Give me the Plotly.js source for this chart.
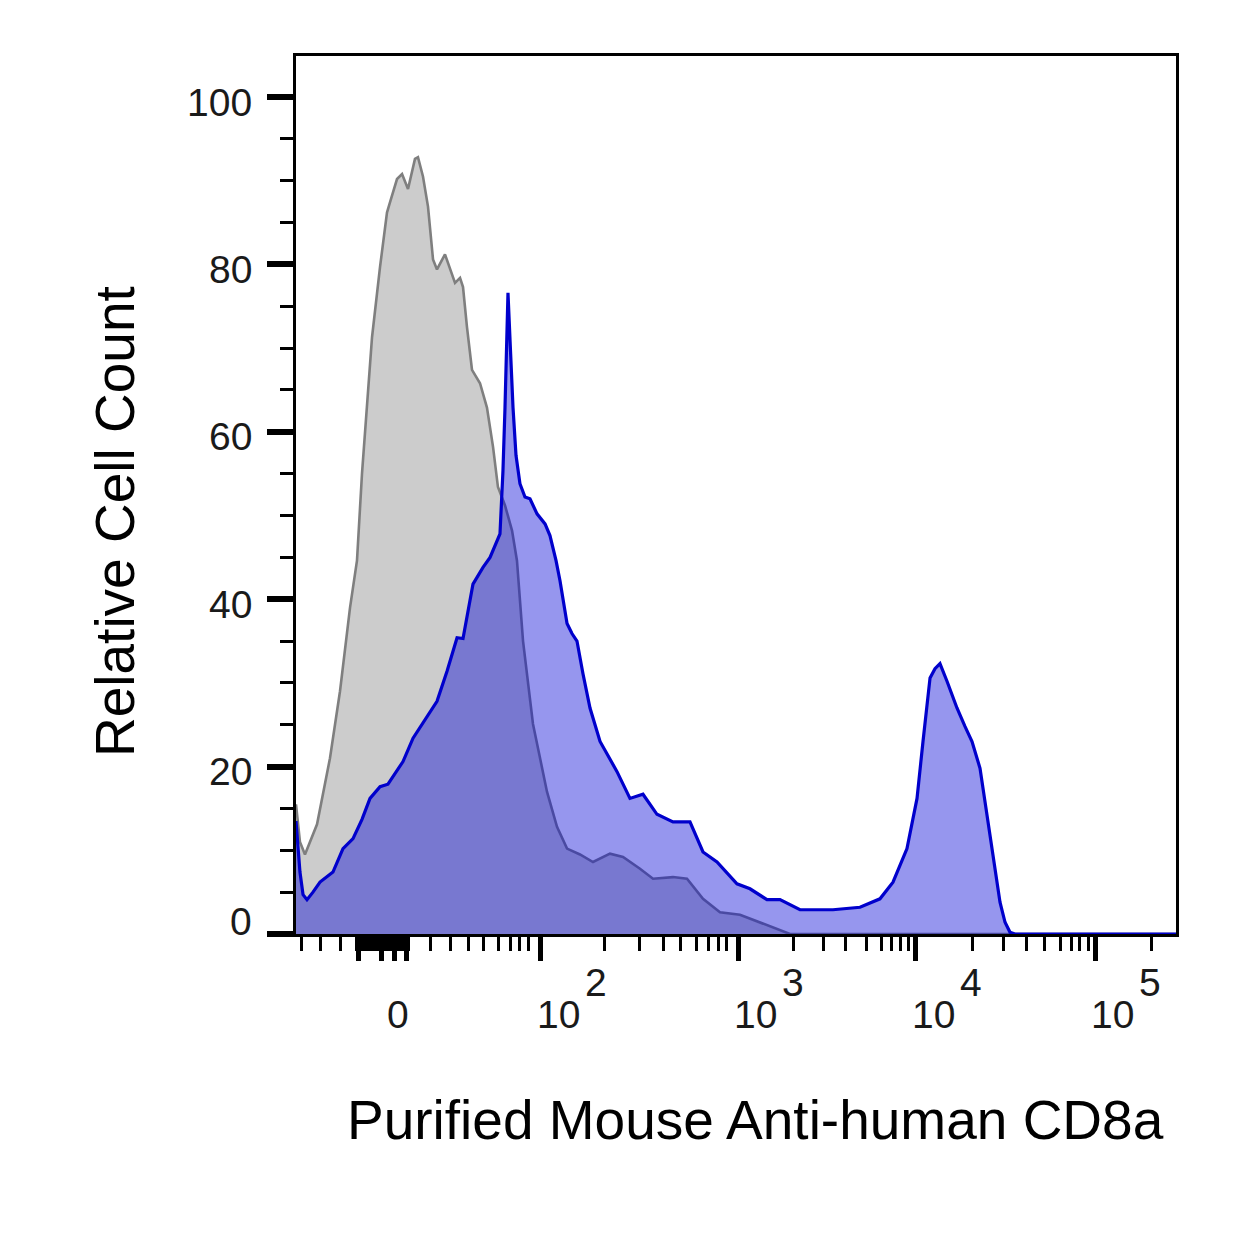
<!DOCTYPE html>
<html>
<head>
<meta charset="utf-8">
<script src="https://cdn.plot.ly/plotly-3.0.1.min.js"></script>
<style>html,body{margin:0;padding:0;background:#fff;}</style>
</head>
<body>
<div id="chart" style="width:1255px;height:1238px;"></div>
<script>
// Display-channel positions (0..1000 across the biexponential axis) and relative counts
const isotypeX = [0,4.5,10.2,23.9,38.6,50.0,61.4,69.3,75.0,80.7,86.4,95.5,103.4,106.8,114.8,120.5,127.3,135.2,138.6,144.3,150.0,155.7,160.2,169.3,175.0,180.7,186.4,189.8,194.3,200.0,209.1,217.0,223.9,229.5,237.5,245.5,251.1,258.0,269.3,285.2,296.6,308.0,322.7,337.5,356.8,371.6,390.9,405.7,428.4,444.3,462.5,481.8,504.5,535.2,561.4,1000];
const isotypeY = [15.5,11.0,9.5,13.1,21.0,29.0,39.0,44.6,55.0,62.9,71.3,79.7,86.2,87.4,90.2,90.8,89.0,92.6,92.8,90.5,86.9,80.6,79.4,81.2,79.4,77.8,78.4,77.3,72.5,67.4,65.8,62.9,58.2,53.4,51.2,48.2,44.6,35.0,25.1,17.0,12.8,10.2,9.5,8.6,9.6,9.2,7.8,6.6,6.8,6.6,4.2,2.6,2.3,1.1,0,0];

const cd8X = [0,4.5,8.0,12.5,19.3,27.3,42.0,53.4,64.8,75.0,84.1,95.5,104.5,121.6,133.0,144.3,160.2,171.6,183.0,189.8,201.1,212.5,220.5,231.8,235.2,237.5,240.9,243.2,246.6,250.0,254.5,260.2,265.9,273.9,283.0,288.6,295.5,300.0,308.0,313.6,319.3,326.1,334.1,345.5,364.8,379.5,394.3,410.2,428.4,447.7,462.5,478.4,501.1,515.9,535.2,550.0,572.7,610.2,640.9,663.6,678.4,694.3,705.7,712.5,720.5,726.1,731.8,739.8,751.1,760.2,768.2,777.3,783.0,788.6,800.0,805.7,811.4,817.0,1000];
const cd8Y = [13.5,7.4,4.7,4.1,5.0,6.2,7.4,10.2,11.4,13.7,16.2,17.6,17.9,20.6,23.4,25.2,27.8,31.4,35.4,35.3,41.8,43.8,45.0,47.8,55.4,62.9,76.6,71.0,62.9,57.2,53.8,52.2,52.0,50.2,49.0,47.6,44.6,42.2,37.1,35.9,35.0,31.1,27.0,23.0,19.4,16.2,16.7,14.3,13.4,13.4,9.8,8.6,6.0,5.4,4.1,4.1,2.9,2.9,3.2,4.2,6.2,10.2,16.2,23.0,30.6,31.7,32.3,30.2,27.0,24.8,23.0,19.8,15.8,11.9,3.8,1.4,0.2,0,0];

// Axis ticks (display channels)
const decadeTicks = [278.4, 502.3, 704.5, 908.5];
const decadeExponents = ['2', '3', '4', '5'];
const zeroLabelPos = 115.9;
const linearMajorTicks = [70.5, 97.7, 111.4, 126.1];
const xMinorTicks = [6.5,27.3,50.0,
  68.2,71.2,74.2,77.2,80.2,83.2,86.2,89.2,92.2,95.2,98.2,101.2,104.2,107.2,110.2,113.2,116.2,119.2,122.2,125.2,128.2,
  152.3,175.0,195.8,212.8,229.9,243.2,254.5,264.0,
  351.1,390.9,417.4,436.4,455.3,468.5,479.9,489.4,
  565.1,599.2,623.9,648.5,665.6,676.9,686.4,695.5,
  768.5,803.8,830.3,851.1,868.2,881.5,890.9,900.3,
  972.4];
const yMajorTicks = [0,20,40,60,80,100];
const yMinorTicks = [5,10,15,25,30,35,45,50,55,65,70,75,85,90,95,105];

const xTitle = 'Purified Mouse Anti-human CD8a';
const yTitle = 'Relative Cell Count';

const FONT = '"Liberation Sans", Arial, Helvetica, sans-serif';
const TICKFONT = {family: FONT, size: 39, color: '#1a1a1a'};

const traces = [
  {x: isotypeX, y: isotypeY, type: 'scatter', mode: 'lines', fill: 'tozeroy',
   fillcolor: '#cccccc', line: {color: '#7f7f7f', width: 2.6}, hoverinfo: 'skip', showlegend: false},
  {x: cd8X, y: cd8Y, type: 'scatter', mode: 'lines', fill: 'tozeroy',
   fillcolor: 'rgba(0,0,214,0.41)', line: {color: '#0000cc', width: 3.2}, hoverinfo: 'skip', showlegend: false}
];

const annotations = [];
// y tick labels
yMajorTicks.forEach(v => {
  annotations.push({text: String(v), xref: 'paper', x: 0, xanchor: 'right', xshift: -42,
    yref: 'y', y: v, yanchor: 'middle', yshift: v === 0 ? 13 : -5, showarrow: false, font: TICKFONT});
});
// x tick labels
annotations.push({text: '0', xref: 'x', x: zeroLabelPos, xanchor: 'center', yref: 'paper', y: 0,
  yanchor: 'middle', yshift: -80, showarrow: false, font: TICKFONT});
decadeTicks.forEach((t, i) => {
  annotations.push({text: '10', xref: 'x', x: t, xanchor: 'left', xshift: -6, yref: 'paper', y: 0,
    yanchor: 'middle', yshift: -80, showarrow: false, font: TICKFONT});
  annotations.push({text: decadeExponents[i], xref: 'x', x: t, xanchor: 'left', xshift: 42, yref: 'paper', y: 0,
    yanchor: 'middle', yshift: -48, showarrow: false, font: TICKFONT});
});
// axis titles
annotations.push({text: xTitle, xref: 'paper', x: (755 - 296) / 880, xanchor: 'center', yref: 'paper', y: 0,
  yanchor: 'middle', yshift: -186, showarrow: false, font: {family: FONT, size: 55, color: '#000'}});
annotations.push({text: yTitle, xref: 'paper', x: 0, xshift: -181, xanchor: 'center', yref: 'paper',
  y: (934 - 522) / 878, yanchor: 'middle', textangle: -90, showarrow: false,
  font: {family: FONT, size: 55, color: '#000'}});

const layout = {
  width: 1255, height: 1238,
  margin: {l: 296, r: 79, t: 56, b: 304, pad: 0},
  paper_bgcolor: '#fff', plot_bgcolor: '#fff',
  font: {family: FONT, color: '#000'},
  showlegend: false,
  xaxis: {
    range: [0, 1000], showgrid: false, zeroline: false,
    showline: true, mirror: true, linecolor: '#000', linewidth: 3,
    tickmode: 'array', tickvals: decadeTicks.concat(linearMajorTicks), showticklabels: false,
    ticks: 'outside', ticklen: 24, tickwidth: 5, tickcolor: '#000',
    minor: {tickmode: 'array', tickvals: xMinorTicks, ticks: 'outside', ticklen: 14, tickwidth: 3, tickcolor: '#000', showgrid: false},
    fixedrange: true
  },
  yaxis: {
    range: [0, 104.9], showgrid: false, zeroline: false,
    showline: true, mirror: true, linecolor: '#000', linewidth: 3,
    tickmode: 'array', tickvals: yMajorTicks, showticklabels: false,
    ticks: 'outside', ticklen: 26, tickwidth: 6, tickcolor: '#000',
    minor: {tickmode: 'array', tickvals: yMinorTicks, ticks: 'outside', ticklen: 13, tickwidth: 3, tickcolor: '#000', showgrid: false},
    fixedrange: true
  },
  annotations: annotations
};

Plotly.newPlot('chart', traces, layout, {displayModeBar: false, staticPlot: true});
</script>
</body>
</html>
